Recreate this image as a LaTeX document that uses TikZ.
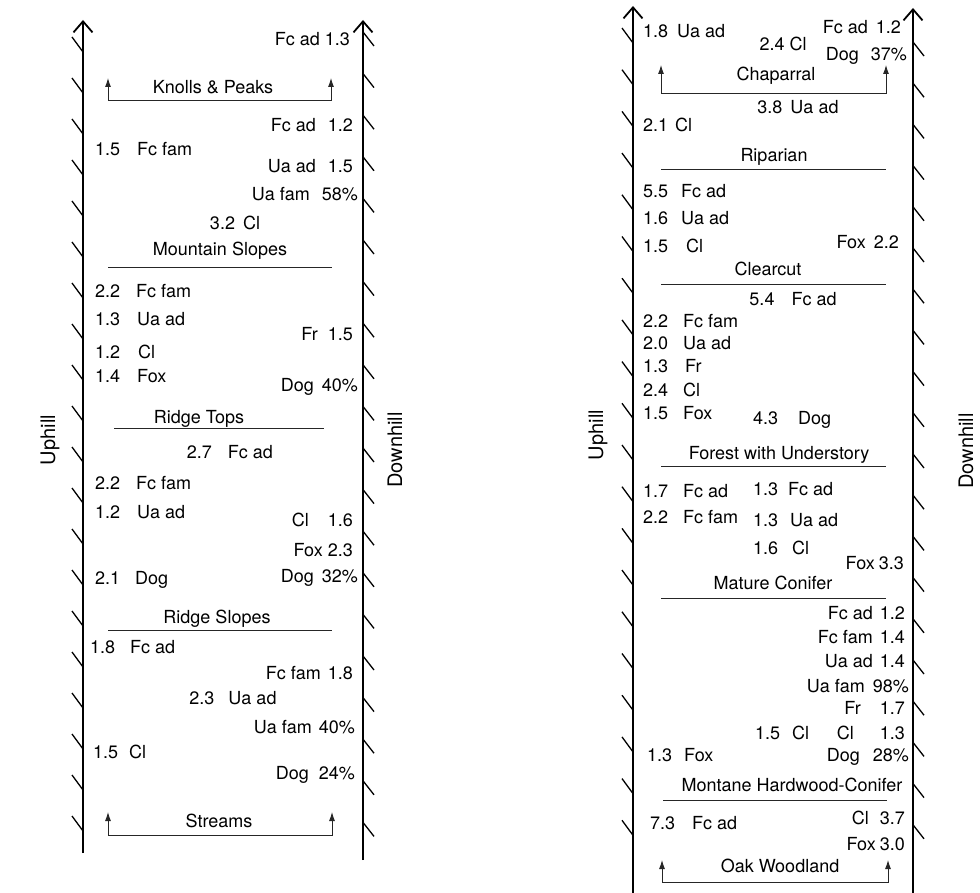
\documentclass[tikz,border=0pt]{standalone}
\usepackage{fontspec}
\setmainfont{TeX Gyre Heros}
\usetikzlibrary{arrows.meta}
\newcommand{\gap}[1]{\hspace{#1pt}}

\begin{document}
\begin{tikzpicture}[x=1pt, y=-1pt,
        font=\fontsize{18}{20}\selectfont,
        val/.style={inner sep=0pt, text height=12pt, text depth=0pt},
        lval/.style={val, anchor=west},
        rval/.style={val, anchor=east},
        habitat/.style={val},
        side/.style={inner sep=0pt, rotate=90, font=\fontsize{20}{22}\selectfont},
        axis/.style={line width=1.8pt, -{Straight Barb[length=11pt,width=19pt]}},
        hatch/.style={line width=1.3pt},
        divider/.style={line width=0.9pt, black!85},
        bracket/.style={line width=0.9pt, black!85,
                        {Latex[length=9pt,width=6pt]}-{Latex[length=9pt,width=6pt]}}
    ]
        \useasboundingbox (0,0) rectangle (980,893);

        % axes
        \coordinate (aLb) at (83,853);  \coordinate (aLt) at (83,20);
        \coordinate (aRb) at (363,860); \coordinate (aRt) at (363,20);
        \coordinate (bLb) at (633,893); \coordinate (bLt) at (633,6);
        \coordinate (bRb) at (913,893); \coordinate (bRt) at (913,8);
        \draw[axis] (aLb) -- (aLt);
        \draw[axis] (aRb) -- (aRt);
        \draw[axis] (bLb) -- (bLt);
        \draw[axis] (bRb) -- (bRt);
        \foreach \k in {0,...,19} {
            \draw[hatch] (83,52+41*\k) ++(-11,-15) -- ++(11,15);
            \draw[hatch] (363,32+41.6*\k) -- ++(11,14);
            \draw[hatch] (633,43+41.7*\k) ++(-11,-15) -- ++(11,15);
            \draw[hatch] (913,42+41.2*\k) -- ++(11,14);
        }

        \node[side] (upA) at (50,440) {Uphill};
        \node[side] (downA) at (395,450) {Downhill};
        \node[side] (upB) at (598,435) {Uphill};
        \node[side] (downB) at (966,451) {Downhill};

        % dividers
        \foreach \n/\y/\xa/\xb in {ms/267/108/332, rt/428/114/324, rs/630/108/332,
                rip/169/661/886, cc/284/661/886, fu/466/661/886,
                mc/598/661/886, mh/800/663/887} {
            \coordinate (\n W) at (\xa,\y);
            \coordinate (\n E) at (\xb,\y);
            \draw[divider] (\n W) -- (\n E);
        }

        % brackets
        \foreach \n/\ya/\yb/\xa/\xb in {kp/78/100/108/331, st/812/835/108/332,
                ch/65/93/661/886, ow/860/882/662/888} {
            \coordinate (\n L) at (\xa,\ya);
            \coordinate (\n R) at (\xb,\ya);
            \draw[bracket] (\n L) -- (\xa,\yb) -- (\xb,\yb) -- (\n R);
        }

        % left column
        \node[rval] (kpFcad) at (350,40) {Fc ad 1.3};
        \node[habitat] (kp) at (213,88) {Knolls \& Peaks};
        \node[rval] (msFcad) at (353,126) {Fc ad\gap{12}1.2};
        \node[lval] (msFcfam) at (95,150) {1.5\gap{17}Fc fam};
        \node[rval] (msUaad) at (353,167) {Ua ad\gap{12}1.5};
        \node[rval] (msUafam) at (358,195) {Ua fam\gap{12}58\%};
        \node[habitat] (msCl) at (235,224) {3.2\gap{8}Cl};
        \node[habitat] (ms) at (220,250) {Mountain Slopes};
        \node[lval] (rtFcfam) at (95,292) {2.2\gap{16}Fc fam};
        \node[lval] (rtUaad) at (95,320) {1.3\gap{17}Ua ad};
        \node[rval] (rtFr) at (353,335) {Fr\gap{10}1.5};
        \node[lval] (rtCl) at (95,352) {1.2\gap{18}Cl};
        \node[lval] (rtFox) at (95,376) {1.4\gap{17}Fox};
        \node[rval] (rtDog) at (358,385) {Dog\gap{8}40\%};
        \node[habitat] (rt) at (199,417) {Ridge Tops};
        \node[habitat] (rsFcad) at (230,452) {2.7\gap{16}Fc ad};
        \node[lval] (rsFcfam) at (95,483) {2.2\gap{16}Fc fam};
        \node[lval] (rsUaad) at (95,512) {1.2\gap{17}Ua ad};
        \node[rval] (rsCl) at (353,520) {Cl\gap{19}1.6};
        \node[rval] (rsFox) at (353,550) {Fox\gap{5}2.3};
        \node[lval] (rsDogL) at (95,578) {2.1\gap{15}Dog};
        \node[rval] (rsDogR) at (358,576) {Dog\gap{8}32\%};
        \node[habitat] (rs) at (217,617) {Ridge Slopes};
        \node[lval] (stFcad) at (90,647) {1.8\gap{15}Fc ad};
        \node[rval] (stFcfam) at (353,673) {Fc fam\gap{7}1.8};
        \node[habitat] (stUaad) at (233,698) {2.3\gap{14}Ua ad};
        \node[rval] (stUafam) at (355,727) {Ua fam\gap{7}40\%};
        \node[lval] (stCl) at (93,752) {1.5\gap{11}Cl};
        \node[rval] (stDog) at (355,773) {Dog\gap{10}24\%};
        \node[habitat] (st) at (219,821) {Streams};

        % right column
        \node[lval] (chUaad) at (643,32) {1.8\gap{9}Ua ad};
        \node[habitat] (chCl) at (783,45) {2.4\gap{5}Cl};
        \node[rval] (chFcad) at (901,28) {Fc ad\gap{8}1.2};
        \node[rval] (chDog) at (907,55) {Dog\gap{12}37\%};
        \node[habitat] (ch) at (776,75) {Chaparral};
        \node[habitat] (ripUaad) at (798,108) {3.8\gap{8}Ua ad};
        \node[lval] (ripCl) at (643,126) {2.1\gap{7}Cl};
        \node[habitat] (rip) at (774,156) {Riparian};
        \node[lval] (ccFcad) at (643,192) {5.5\gap{13}Fc ad};
        \node[lval] (ccUaad) at (643,219) {1.6\gap{13}Ua ad};
        \node[lval] (ccCl) at (643,247) {1.5\gap{18}Cl};
        \node[rval] (ccFox) at (899,243) {Fox\gap{8}2.2};
        \node[habitat] (cc) at (768,270) {Clearcut};
        \node[habitat] (fuFcad) at (793,300) {5.4\gap{17}Fc ad};
        \node[lval] (fuFcfam) at (643,321) {2.2\gap{15}Fc fam};
        \node[lval] (fuUaad) at (643,343) {2.0\gap{15}Ua ad};
        \node[lval] (fuFr) at (643,366) {1.3\gap{17}Fr};
        \node[lval] (fuCl) at (643,390) {2.4\gap{15}Cl};
        \node[lval] (fuFox) at (643,413) {1.5\gap{15}Fox};
        \node[lval] (fuDog) at (753,418) {4.3\gap{20}Dog};
        \node[habitat] (fu) at (779,453) {Forest with Understory};
        \node[lval] (mcFcadL) at (643,491) {1.7\gap{15}Fc ad};
        \node[lval] (mcFcadR) at (753,489) {1.3\gap{10}Fc ad};
        \node[lval] (mcFcfam) at (643,517) {2.2\gap{15}Fc fam};
        \node[lval] (mcUaad) at (753,520) {1.3\gap{12}Ua ad};
        \node[lval] (mcCl) at (753,548) {1.6\gap{14}Cl};
        \node[rval] (mcFox) at (904,563) {Fox\gap{4}3.3};
        \node[habitat] (mc) at (773,583) {Mature Conifer};
        \node[rval] (mhFcad) at (905,613) {Fc ad\gap{7}1.2};
        \node[rval] (mhFcfam) at (905,637) {Fc fam\gap{7}1.4};
        \node[rval] (mhUaad) at (905,661) {Ua ad\gap{7}1.4};
        \node[rval] (mhUafam) at (909,686) {Ua fam\gap{8}98\%};
        \node[rval] (mhFr) at (905,708) {Fr\gap{19}1.7};
        \node[lval] (mhClL) at (755,733) {1.5\gap{12}Cl};
        \node[rval] (mhClR) at (905,733) {Cl\gap{26}1.3};
        \node[lval] (mhFox) at (647,755) {1.3\gap{12}Fox};
        \node[rval] (mhDog) at (909,755) {Dog\gap{13}28\%};
        \node[habitat] (mh) at (792,785) {Montane Hardwood-Conifer};
        \node[lval] (owFcad) at (650,823) {7.3\gap{17}Fc ad};
        \node[rval] (owCl) at (905,818) {Cl\gap{11}3.7};
        \node[rval] (owFox) at (905,844) {Fox\gap{4}3.0};
        \node[habitat] (ow) at (780,866) {Oak Woodland};
    \end{tikzpicture}
\end{document}
